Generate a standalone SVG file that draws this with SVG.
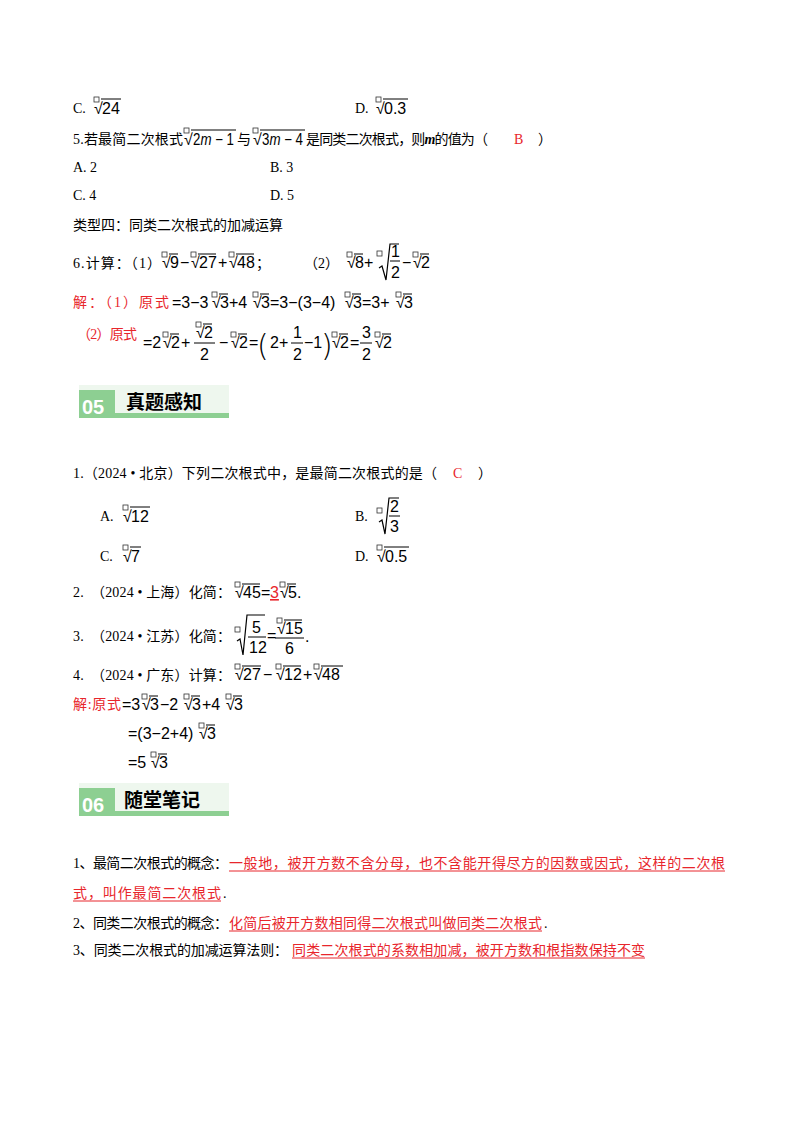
<svg xmlns="http://www.w3.org/2000/svg" width="800" height="1132" viewBox="0 0 800 1132">
<style>
text{font-family:"Liberation Serif","Noto Sans CJK SC",serif;font-size:14px;fill:#000}
.m{font-family:"Liberation Sans","DejaVu Sans",sans-serif;font-size:16px}
.r{fill:#e8262c}
.bx{fill:none;stroke:#333;stroke-width:0.8}
.ov{stroke:#000;stroke-width:1}
.ul{stroke:#e8262c;stroke-width:1}
.h{font-family:"Noto Sans CJK SC",sans-serif;font-weight:bold;font-size:19px}
.n{font-family:"Liberation Sans",sans-serif;font-weight:bold;font-size:20px;fill:#fff}
.p{font-family:"DejaVu Sans",sans-serif;font-size:30px;font-weight:200}
</style>
<rect width="800" height="1132" fill="#fff"/>
<text x="73" y="113">C.</text>
<rect class="bx" x="94" y="97" width="5" height="5"/><text class="m" x="94" y="114">√</text><line class="ov" x1="101" y1="99" x2="121" y2="99"/><text class="m" x="102" y="114">24</text>
<text x="355" y="113">D.</text>
<rect class="bx" x="376" y="97" width="5" height="5"/><text class="m" x="376" y="114">√</text><line class="ov" x1="383" y1="99" x2="408" y2="99"/><text class="m" x="384" y="114">0.3</text>
<text x="73" y="144" textLength="110">5.若最简二次根式</text>
<rect class="bx" x="184" y="128" width="5" height="5"/><text class="m" x="184" y="145">√</text><line class="ov" x1="191" y1="130" x2="236" y2="130"/><text class="m" x="193" y="145" textLength="41" lengthAdjust="spacingAndGlyphs">2<tspan font-style="italic">m</tspan> − 1</text>
<text x="237" y="144">与</text>
<rect class="bx" x="253" y="128" width="5" height="5"/><text class="m" x="253" y="145">√</text><line class="ov" x1="260" y1="130" x2="305" y2="130"/><text class="m" x="262" y="145" textLength="41" lengthAdjust="spacingAndGlyphs">3<tspan font-style="italic">m</tspan> − 4</text>
<text x="306" y="144" textLength="182">是同类二次根式，则<tspan font-style="italic" font-weight="bold">m</tspan>的值为（</text>
<text class="r" x="514" y="144">B</text><text x="538" y="144">）</text>
<text x="73" y="172">A. 2</text><text x="270" y="172">B. 3</text>
<text x="73" y="200">C. 4</text><text x="270" y="200">D. 5</text>
<text x="73" y="230" textLength="210">类型四：同类二次根式的加减运算</text>
<text x="73" y="268" textLength="88">6.计算：（1）</text>
<rect class="bx" x="162" y="252" width="5" height="5"/><text class="m" x="162" y="268">√</text><line class="ov" x1="169" y1="254" x2="178" y2="254"/><text class="m" x="170" y="268">9</text>
<text class="m" x="180" y="268">−</text>
<rect class="bx" x="191" y="252" width="5" height="5"/><text class="m" x="191" y="268">√</text><line class="ov" x1="198" y1="254" x2="216" y2="254"/><text class="m" x="199" y="268">27</text>
<text class="m" x="218" y="268">+</text>
<rect class="bx" x="229" y="252" width="5" height="5"/><text class="m" x="229" y="268">√</text><line class="ov" x1="236" y1="254" x2="254" y2="254"/><text class="m" x="237" y="268">48</text>
<text x="256" y="268">；</text>
<text x="304" y="268">（2）</text>
<rect class="bx" x="347" y="252" width="5" height="5"/><text class="m" x="347" y="268">√</text><line class="ov" x1="354" y1="254" x2="363" y2="254"/><text class="m" x="355" y="268">8</text>
<text class="m" x="364" y="268">+</text>
<rect class="bx" x="377" y="251" width="5" height="5"/><path d="M379 268 l3 -2 l4 14 l4 -36 h9" fill="none" stroke="#000" stroke-width="1.2"/>
<text class="m" x="391" y="257">1</text><line class="ov" x1="390" y1="261" x2="400" y2="261"/><text class="m" x="391" y="278">2</text>
<text class="m" x="402" y="268">−</text>
<rect class="bx" x="413" y="252" width="5" height="5"/><text class="m" x="413" y="268">√</text><line class="ov" x1="420" y1="254" x2="429" y2="254"/><text class="m" x="421" y="268">2</text>
<text class="r" x="73" y="307" textLength="96">解：（1）原式</text>
<text class="m" x="172" y="308">=3−3</text>
<rect class="bx" x="212" y="292" width="5" height="5"/><text class="m" x="212" y="308">√</text><line class="ov" x1="219" y1="294" x2="228" y2="294"/><text class="m" x="220" y="308">3</text>
<text class="m" x="229" y="308">+4</text>
<rect class="bx" x="253" y="292" width="5" height="5"/><text class="m" x="253" y="308">√</text><line class="ov" x1="260" y1="294" x2="269" y2="294"/><text class="m" x="261" y="308">3</text>
<text class="m" x="270" y="308">=3−(3−4)</text>
<rect class="bx" x="345" y="292" width="5" height="5"/><text class="m" x="345" y="308">√</text><line class="ov" x1="352" y1="294" x2="361" y2="294"/><text class="m" x="353" y="308">3</text>
<text class="m" x="362" y="308">=3+</text>
<rect class="bx" x="396" y="292" width="5" height="5"/><text class="m" x="396" y="308">√</text><line class="ov" x1="403" y1="294" x2="412" y2="294"/><text class="m" x="404" y="308">3</text>
<text class="r" x="77" y="339" textLength="60">（2）原式</text>
<text class="m" x="143" y="348">=2</text>
<rect class="bx" x="163" y="332" width="5" height="5"/><text class="m" x="163" y="348">√</text><line class="ov" x1="170" y1="334" x2="179" y2="334"/><text class="m" x="171" y="348">2</text>
<text class="m" x="181" y="348">+</text>
<rect class="bx" x="196" y="322" width="5" height="5"/><text class="m" x="196" y="338">√</text><line class="ov" x1="203" y1="324" x2="212" y2="324"/><text class="m" x="204" y="338">2</text>
<line class="ov" x1="194" y1="343" x2="215" y2="343"/><text class="m" x="200" y="360">2</text>
<text class="m" x="219" y="348">−</text>
<rect class="bx" x="231" y="332" width="5" height="5"/><text class="m" x="231" y="348">√</text><line class="ov" x1="238" y1="334" x2="247" y2="334"/><text class="m" x="239" y="348">2</text>
<text class="m" x="249" y="348">=</text>
<text class="p" x="257" y="356">(</text>
<text class="m" x="270" y="348">2+</text>
<text class="m" x="293" y="338">1</text><line class="ov" x1="291" y1="343" x2="303" y2="343"/><text class="m" x="293" y="360">2</text>
<text class="m" x="304" y="348">−1</text>
<text class="p" x="321" y="356">)</text>
<rect class="bx" x="332" y="332" width="5" height="5"/><text class="m" x="332" y="348">√</text><line class="ov" x1="339" y1="334" x2="348" y2="334"/><text class="m" x="340" y="348">2</text>
<text class="m" x="350" y="348">=</text>
<text class="m" x="362" y="338">3</text><line class="ov" x1="360" y1="343" x2="372" y2="343"/><text class="m" x="362" y="360">2</text>
<rect class="bx" x="375" y="332" width="5" height="5"/><text class="m" x="375" y="348">√</text><line class="ov" x1="382" y1="334" x2="391" y2="334"/><text class="m" x="383" y="348">2</text>
<g id="banner05">
<rect x="79" y="385" width="150" height="33" fill="#eef7ee"/>
<rect x="79" y="413" width="150" height="5" fill="#8dcf92"/>
<rect x="79" y="390" width="36" height="28" fill="#8dcf92"/>
<text class="n" x="82" y="414">05</text>
<text class="h" x="126" y="409">真题感知</text>
</g>
<text x="73" y="478" font-size="13" textLength="364">1.（2024 • 北京）下列二次根式中，是最简二次根式的是（</text>
<text class="r" x="453" y="478" font-size="13">C</text><text x="478" y="478" font-size="13">）</text>
<text x="100" y="521" font-size="13">A.</text>
<rect class="bx" x="123" y="505" width="5" height="5"/><text class="m" x="123" y="522">√</text><line class="ov" x1="130" y1="507" x2="150" y2="507"/><text class="m" x="131" y="522">12</text>
<text x="355" y="521" font-size="13">B.</text>
<rect class="bx" x="377" y="508" width="5" height="5"/><path d="M379 522 l3 -2 l3 14 l4 -36 h10" fill="none" stroke="#000" stroke-width="1.2"/>
<text class="m" x="390" y="512">2</text><line class="ov" x1="389" y1="516" x2="400" y2="516"/><text class="m" x="390" y="532">3</text>
<text x="100" y="561" font-size="13">C.</text>
<rect class="bx" x="123" y="545" width="5" height="5"/><text class="m" x="123" y="562">√</text><line class="ov" x1="130" y1="547" x2="141" y2="547"/><text class="m" x="131" y="562">7</text>
<text x="355" y="561" font-size="13">D.</text>
<rect class="bx" x="377" y="545" width="5" height="5"/><text class="m" x="377" y="562">√</text><line class="ov" x1="384" y1="547" x2="409" y2="547"/><text class="m" x="385" y="562">0.5</text>
<text x="73" y="597" font-size="13" textLength="158">2.　（2024 • 上海）化简：</text>
<rect class="bx" x="235" y="582" width="5" height="5"/><text class="m" x="235" y="598">√</text><line class="ov" x1="242" y1="584" x2="260" y2="584"/><text class="m" x="243" y="598">45</text>
<text class="m" x="261" y="598" font-size="13">=</text><text class="m r" x="270" y="598" text-decoration="underline">3</text>
<rect class="bx" x="280" y="582" width="5" height="5"/><text class="m" x="280" y="598">√</text><line class="ov" x1="287" y1="584" x2="296" y2="584"/><text class="m" x="288" y="598">5</text><text class="m" x="297" y="598">.</text>
<text x="73" y="641" font-size="13" textLength="158">3.　（2024 • 江苏）化简：</text>
<rect class="bx" x="235" y="627" width="5" height="5"/><path d="M237 641 l3 -2 l3 16 l4 -40 h18" fill="none" stroke="#000" stroke-width="1.2"/>
<text class="m" x="252" y="633">5</text><line class="ov" x1="248" y1="637" x2="266" y2="637"/><text class="m" x="249" y="653">12</text>
<text class="m" x="267" y="641" font-size="13">=</text>
<rect class="bx" x="277" y="618" width="5" height="5"/><text class="m" x="277" y="634">√</text><line class="ov" x1="284" y1="620" x2="302" y2="620"/><text class="m" x="285" y="634">15</text>
<line class="ov" x1="275" y1="638" x2="304" y2="638"/><text class="m" x="285" y="654">6</text><text class="m" x="305" y="642">.</text>
<text x="73" y="680" font-size="13" textLength="158">4.　（2024 • 广东）计算：</text>
<rect class="bx" x="235" y="664" width="5" height="5"/><text class="m" x="235" y="680">√</text><line class="ov" x1="242" y1="666" x2="261" y2="666"/><text class="m" x="243" y="680">27</text>
<text class="m" x="263" y="680">−</text>
<rect class="bx" x="276" y="664" width="5" height="5"/><text class="m" x="276" y="680">√</text><line class="ov" x1="283" y1="666" x2="301" y2="666"/><text class="m" x="284" y="680">12</text>
<text class="m" x="303" y="680">+</text>
<rect class="bx" x="314" y="664" width="5" height="5"/><text class="m" x="314" y="680">√</text><line class="ov" x1="321" y1="666" x2="343" y2="666"/><text class="m" x="322" y="680">48</text>
<text class="r" x="73" y="709" textLength="48">解:原式</text>
<text class="m" x="122" y="710">=3</text>
<rect class="bx" x="142" y="694" width="5" height="5"/><text class="m" x="142" y="710">√</text><line class="ov" x1="149" y1="696" x2="158" y2="696"/><text class="m" x="150" y="710">3</text>
<text class="m" x="160" y="710">−2</text>
<rect class="bx" x="184" y="694" width="5" height="5"/><text class="m" x="184" y="710">√</text><line class="ov" x1="191" y1="696" x2="200" y2="696"/><text class="m" x="192" y="710">3</text>
<text class="m" x="202" y="710">+4</text>
<rect class="bx" x="226" y="694" width="5" height="5"/><text class="m" x="226" y="710">√</text><line class="ov" x1="233" y1="696" x2="242" y2="696"/><text class="m" x="234" y="710">3</text>
<text class="m" x="128" y="739">=(3−2+4)</text>
<rect class="bx" x="199" y="723" width="5" height="5"/><text class="m" x="199" y="739">√</text><line class="ov" x1="206" y1="725" x2="215" y2="725"/><text class="m" x="207" y="739">3</text>
<text class="m" x="128" y="768">=5</text>
<rect class="bx" x="151" y="752" width="5" height="5"/><text class="m" x="151" y="768">√</text><line class="ov" x1="158" y1="754" x2="167" y2="754"/><text class="m" x="159" y="768">3</text>
<g id="banner06">
<rect x="79" y="783" width="150" height="33" fill="#eef7ee"/>
<rect x="79" y="811" width="150" height="5" fill="#8dcf92"/>
<rect x="79" y="788" width="36" height="28" fill="#8dcf92"/>
<text class="n" x="82" y="812">06</text>
<text class="h" x="124" y="807">随堂笔记</text>
</g>
<text x="73" y="868" textLength="155">1、最简二次根式的概念：</text>
<text class="r" x="229" y="868" textLength="496">一般地，被开方数不含分母，也不含能开得尽方的因数或因式，这样的二次根</text>
<line class="ul" x1="229" y1="871" x2="725" y2="871"/>
<text class="r" x="73" y="898" textLength="148">式，叫作最简二次根式</text><text x="223" y="898">.</text>
<line class="ul" x1="73" y1="901" x2="221" y2="901"/>
<text x="73" y="928" textLength="155">2、同类二次根式的概念：</text>
<text class="r" x="229" y="928" textLength="313">化简后被开方数相同得二次根式叫做同类二次根式</text><text x="544" y="928">.</text>
<line class="ul" x1="229" y1="931" x2="542" y2="931"/>
<text x="73" y="955" textLength="215">3、同类二次根式的加减运算法则：</text>
<text class="r" x="292" y="955" textLength="353">同类二次根式的系数相加减，被开方数和根指数保持不变</text>
<line class="ul" x1="292" y1="958" x2="645" y2="958"/>
</svg>
